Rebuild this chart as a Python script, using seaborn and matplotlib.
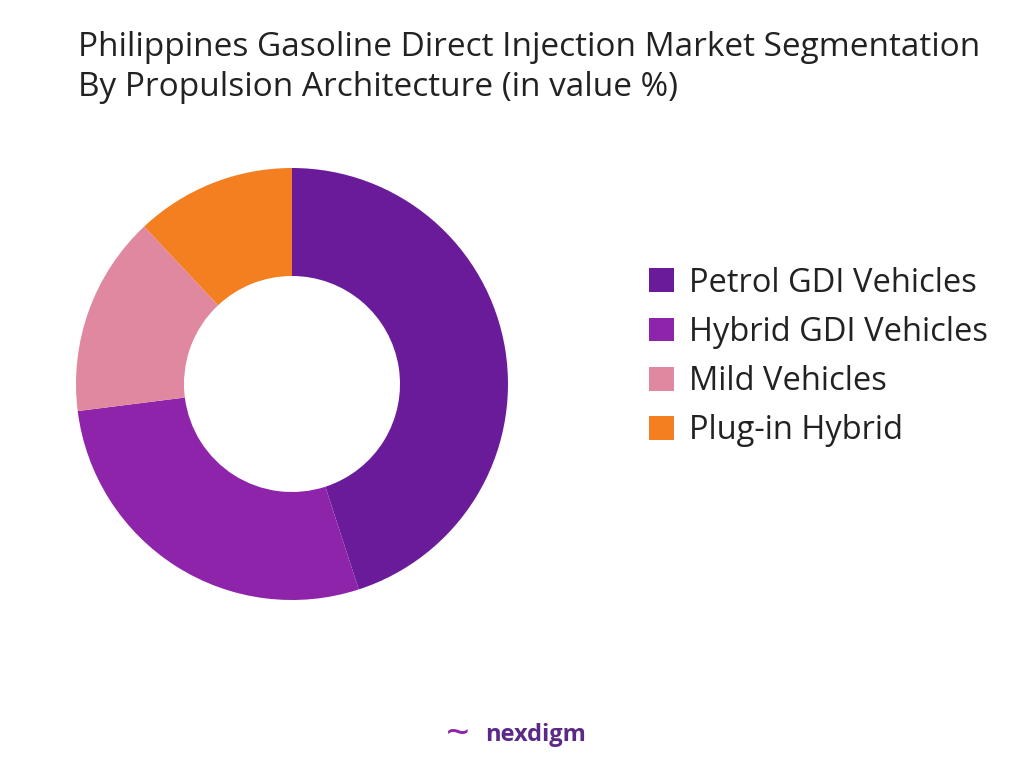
import matplotlib
matplotlib.use("Agg")
import matplotlib.pyplot as plt
import seaborn as sns

# segment shares (value %)
segments = ["Petrol GDI Vehicles", "Hybrid GDI Vehicles", "Mild Vehicles", "Plug-in Hybrid"]
shares = [45, 28, 15, 12]
colors = ["#6A1B9A", "#8E24AA", "#DF88A0", "#F47F20"]

sns.set_theme(style="white")
plt.rcParams['font.family'] = ['Open Sans', 'DejaVu Sans']

fig = plt.figure(figsize=(10.24, 7.68), dpi=100)
ax = fig.add_axes([76 / 1024, 168 / 768, 432 / 1024, 432 / 768])
wedges, _ = ax.pie(shares, colors=colors, startangle=90, counterclock=False,
                   radius=1, wedgeprops=dict(width=0.5, edgecolor="none"))
ax.set_xlim(-1, 1)
ax.set_ylim(-1, 1)
ax.set_aspect("equal")
ax.axis("off")

fig.text(78 / 1024, 1 - 47 / 768, "Philippines Gasoline Direct Injection Market Segmentation",
         fontsize=24, va="center", ha="left", color="#222222")
fig.text(78 / 1024, 1 - 87 / 768, "By Propulsion Architecture (in value %)",
         fontsize=24, va="center", ha="left", color="#222222")

fig.legend(wedges, segments, loc="center left", bbox_to_anchor=(620 / 1024, 1 - 357 / 768),
           frameon=False, fontsize=23.5, handlelength=0.75, handleheight=0.75,
           handletextpad=0.45, labelspacing=0.5, labelcolor="#222222")

fig.text(485 / 1024, 1 - 735 / 768, "nexdigm", fontsize=17, fontweight="bold",
         color="#5B2A86", va="center", ha="left")
fig.text(458 / 1024, 1 - 735 / 768, "~", fontsize=30, color="#8E24AA",
         va="center", ha="center")

fig.savefig("out.png", dpi=100)
